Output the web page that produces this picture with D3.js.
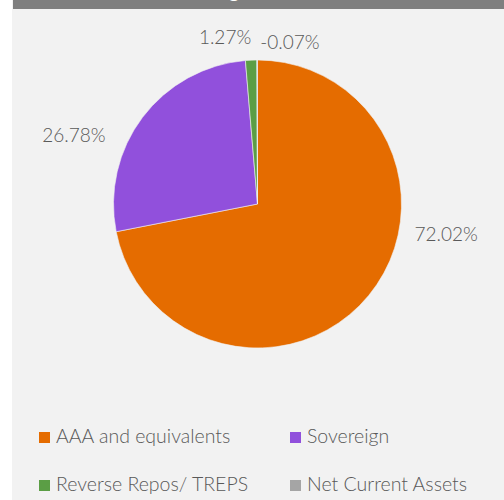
<!DOCTYPE html>
<html lang="en">
<head>
<meta charset="utf-8">
<title>Rating Profile</title>
<style>
  body { margin: 0; background: #fff; }
  svg { display: block; }
  text { font-family: Lato, "Open Sans", sans-serif; font-weight: 300; fill: #595959; }
</style>
</head>
<body>
<div id="chart"></div>
<script src="https://cdn.jsdelivr.net/npm/d3@7"></script>
<script>
  // data
  var categories = ["AAA and equivalents", "Sovereign", "Reverse Repos/ TREPS", "Net Current Assets"];
  var values = [72.02, 26.78, 1.27, -0.07];
  var colors = ["#e56c00", "#9150dc", "#5b9e45", "#a5a5a5"];
  var title = "Rating Profile";

  var width = 504, height = 500;
  var cx = 257.5, cy = 204, radius = 144;

  var svg = d3.select("#chart").append("svg")
      .attr("width", width)
      .attr("height", height);

  // panel + header bar (title sits mostly above the visible area, like the reference)
  svg.append("rect").attr("x", 12).attr("y", 0).attr("width", width - 12).attr("height", height).attr("fill", "#f2f2f2");
  svg.append("rect").attr("x", 13).attr("y", 0).attr("width", width - 13).attr("height", 9).attr("fill", "#7f7f7f");
  svg.append("text")
      .attr("x", 242).attr("y", -2)
      .attr("text-anchor", "middle")
      .style("fill", "#fff").style("font-size", "20px").style("font-weight", 400)
      .text(title);

  var data = categories.map(function (c, i) { return { name: c, value: values[i], color: colors[i] }; });

  // excel draws negative values by their size
  var pie = d3.pie().sort(null).value(function (d) { return Math.abs(d.value); });
  var arcs = pie(data);
  var arc = d3.arc().innerRadius(0).outerRadius(radius);

  var g = svg.append("g").attr("transform", "translate(" + cx + "," + cy + ")");

  g.selectAll("path.slice")
      .data(arcs)
      .enter().append("path")
      .attr("class", "slice")
      .attr("d", arc)
      .attr("fill", function (d) { return d.data.color; })
      .attr("stroke", "#f2f2f2")
      .attr("stroke-width", 0.6);

  // label placement (best-fit style), angle in degrees clockwise from 12 o'clock + distance
  var labelPlace = [[99, 191], [290.5, 196], [349, 170], [11.3, 165]];
  var fmt = function (v) { return v.toFixed(2) + "%"; };

  g.selectAll("text.lbl")
      .data(arcs)
      .enter().append("text")
      .attr("class", "lbl")
      .attr("transform", function (d, i) {
        var a = labelPlace[i][0] * Math.PI / 180, r = labelPlace[i][1];
        var p = d3.arc().innerRadius(r).outerRadius(r).startAngle(a).endAngle(a).centroid();
        return "translate(" + p[0] + "," + p[1] + ")";
      })
      .attr("text-anchor", "middle")
      .attr("dy", "0.35em")
      .style("font-size", "19px")
      .text(function (d) { return fmt(d.data.value); });

  // legend
  var legend = svg.append("g").selectAll("g")
      .data(data)
      .enter().append("g")
      .attr("transform", function (d, i) {
        return "translate(" + (39 + (i % 2) * 251) + "," + (432 + Math.floor(i / 2) * 48) + ")";
      });

  legend.append("rect")
      .attr("width", 11).attr("height", 11)
      .attr("fill", function (d) { return d.color; });

  legend.append("text")
      .attr("x", 17).attr("y", 11)
      .style("font-size", "19.5px")
      .text(function (d) { return d.name; });
</script>
</body>
</html>
